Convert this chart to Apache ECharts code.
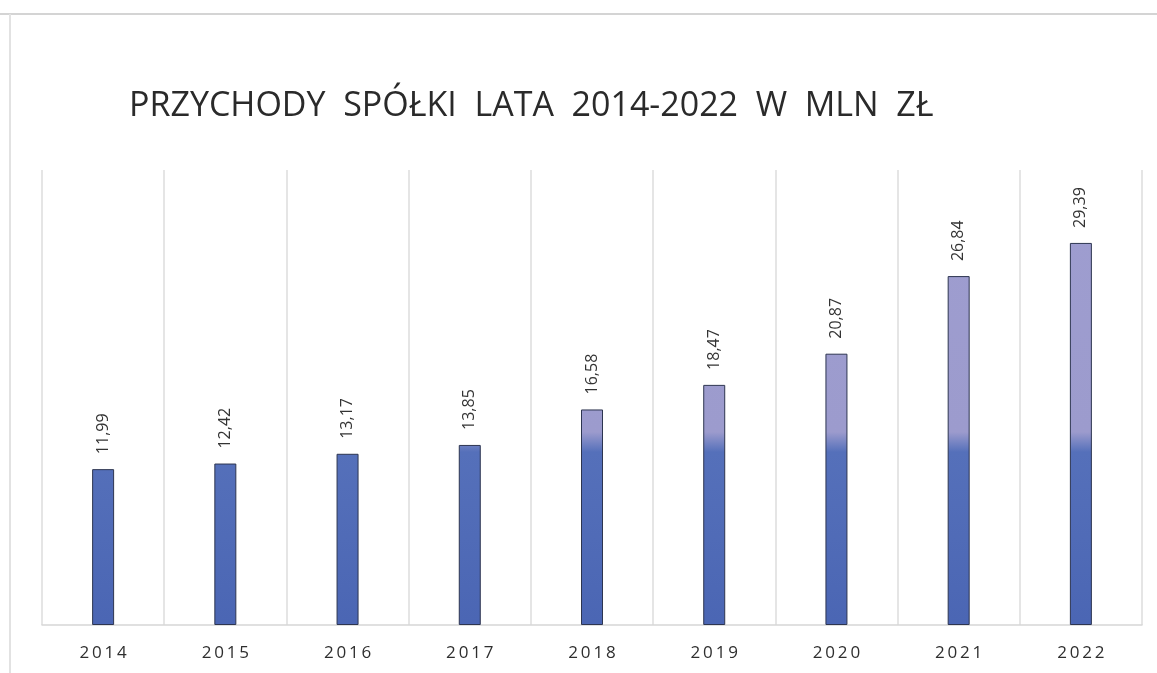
<!DOCTYPE html>
<html>
<head>
<meta charset="utf-8">
<script src="https://cdn.jsdelivr.net/npm/echarts@6/dist/echarts.min.js"></script>
<style>
  html, body { margin: 0; padding: 0; background: #fff; }
  #chart { width: 1157px; height: 673px; }
</style>
</head>
<body>
<div id="chart"></div>
<script>
const years = ["2014", "2015", "2016", "2017", "2018", "2019", "2020", "2021", "2022"];
const revenue = [11.99, 12.42, 13.17, 13.85, 16.58, 18.47, 20.87, 26.84, 29.39];
const titleText = "PRZYCHODY  SPÓŁKI  LATA  2014-2022  W  MLN  ZŁ";

const chart = echarts.init(document.getElementById("chart"));

// scan look: bars are lavender above ~y440 and blue below
const barColor = new echarts.graphic.LinearGradient(0, 0, 0, 673, [
  { offset: 0, color: "#a09fd2" },
  { offset: 432 / 673, color: "#9c9bcd" },
  { offset: 452 / 673, color: "#5570ba" },
  { offset: 1, color: "#4863b2" },
], true);

chart.setOption({
  backgroundColor: "#ffffff",
  animation: false,
  title: {
    text: titleText,
    left: 124,
    top: 84,
    textStyle: {
      fontFamily: "Open Sans",
      fontSize: 34,
      fontWeight: "normal",
      color: "#2a2a2a",
    },
  },
  graphic: [
    {
      type: "polyline",
      shape: { points: [[0, 14], [1157, 14]] },
      style: { stroke: "#d4d4d4", lineWidth: 2 },
    },
    {
      type: "polyline",
      shape: { points: [[10, 14], [10, 673]] },
      style: { stroke: "#e2e2e2", lineWidth: 2 },
    },
  ],
  grid: { left: 42, right: 15, top: 170, bottom: 48 },
  xAxis: {
    type: "category",
    data: years,
    axisLine: { lineStyle: { color: "#d6d6d6", width: 1.5 } },
    axisTick: { show: false },
    splitLine: { show: true, lineStyle: { color: "#dcdcdc", width: 1.5 } },
    axisLabel: {
      margin: 20,
      fontFamily: "Open Sans",
      fontSize: 17,
      color: "#2e2e2e",
      formatter: (v) => v.split("").join("\u2009"),
    },
  },
  yAxis: {
    type: "value",
    min: 0,
    max: 35,
    show: false,
    splitLine: { show: false },
  },
  series: [
    {
      type: "bar",
      data: revenue,
      barWidth: 22,
      itemStyle: { color: barColor, borderColor: "#2d3550", borderWidth: 1 },
      label: {
        show: true,
        position: "top",
        rotate: 90,
        align: "left",
        verticalAlign: "middle",
        distance: 15,
        fontFamily: "Open Sans",
        fontSize: 16,
        color: "#333",
        formatter: (p) => p.value.toFixed(2).replace(".", ","),
      },
    },
  ],
});
</script>
</body>
</html>
